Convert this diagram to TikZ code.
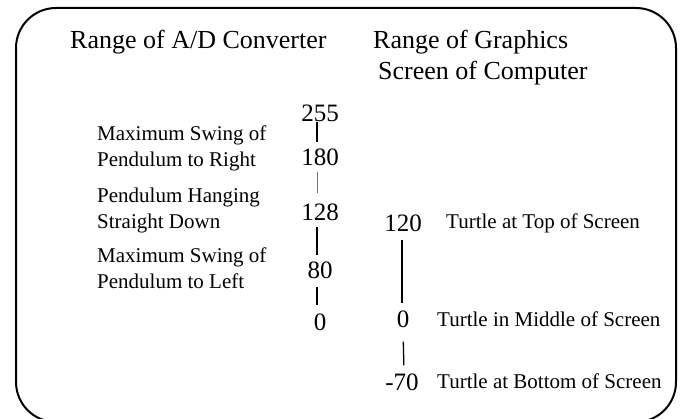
\documentclass[tikz,border=0pt]{standalone}
\usepackage{fontspec}
\setmainfont{Liberation Serif}
\begin{document}
\begin{tikzpicture}[x=1pt,y=-1pt,
  title/.style={anchor=west,inner sep=0pt,font=\fontsize{26}{28}\selectfont},
  lbl/.style={anchor=west,inner sep=0pt,align=left,font=\fontsize{21}{26}\selectfont},
  num/.style={inner sep=0pt,font=\fontsize{25}{27}\selectfont},
  tick/.style={line width=1.3pt}]
\useasboundingbox (0,0) rectangle (683,419);
\draw[line width=2pt,rounded corners=40pt] (16,8) rectangle (676,422);
% titles
\node[title] (t1) at (70,42) {Range of A/D Converter};
\node[title] (t2) at (373,42) {Range of Graphics};
\node[title] (t3) at (378,73) {Screen of Computer};
% left labels
\node[lbl] (l1) at (97,148) {Maximum Swing of\\Pendulum to Right};
\node[lbl] (l2) at (97,210) {Pendulum Hanging\\Straight Down};
\node[lbl] (l3) at (97,268) {Maximum Swing of\\Pendulum to Left};
% A/D numbers
\node[num] (a255) at (320,113) {255};
\node[num] (a180) at (320,157) {180};
\node[num] (a128) at (320,212) {128};
\node[num] (a80) at (320,270) {80};
\node[num] (a0) at (320,322) {0};
\draw[tick,shorten >=6pt] ([xshift=-3pt]a255.south) -- ([xshift=-3pt]a180.north);
\draw[tick,black!55,line width=1pt,shorten <=6pt,shorten >=10pt] ([xshift=-3pt]a180.south) -- ([xshift=-3pt]a128.north);
\draw[tick,shorten <=6pt,shorten >=6pt] ([xshift=-3pt]a128.south) -- ([xshift=-3pt]a80.north);
\draw[tick,shorten <=8pt,shorten >=8pt] ([xshift=-3pt]a80.south) -- ([xshift=-3pt]a0.north);
% screen numbers
\node[num] (s120) at (403,223) {120};
\node[num] (s0) at (403,319) {0};
\node[num] (sm70) at (402,382) {-70};
\draw[tick,shorten <=8pt,shorten >=7pt] ([xshift=-1pt]s120.south) -- ([xshift=-1pt]s0.north);
\draw[tick,shorten <=14pt,shorten >=8pt] (s0.south) -- ([xshift=2pt]sm70.north);
% screen labels
\node[lbl] (r1) at (446,223) {Turtle at Top of Screen};
\node[lbl] (r2) at (437,319) {Turtle in Middle of Screen};
\node[lbl] (r3) at (437,381) {Turtle at Bottom of Screen};
\end{tikzpicture}
\end{document}
